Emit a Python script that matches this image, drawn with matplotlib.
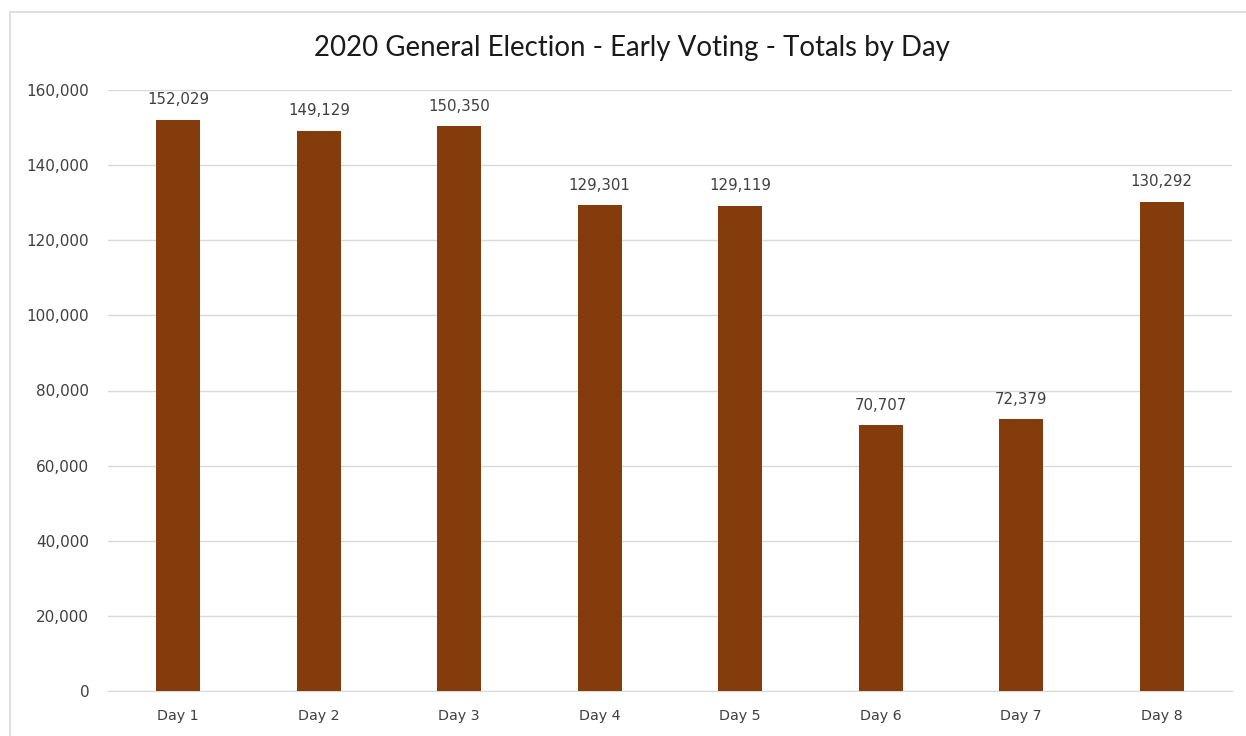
import matplotlib
matplotlib.use("Agg")
import matplotlib.pyplot as plt
from matplotlib.patches import Rectangle
from matplotlib.ticker import FuncFormatter

categories = ["Day 1", "Day 2", "Day 3", "Day 4", "Day 5", "Day 6", "Day 7", "Day 8"]
totals = [152029, 149129, 150350, 129301, 129119, 70707, 72379, 130292]
y_ticks = [0, 20000, 40000, 60000, 80000, 100000, 120000, 140000, 160000]
title = "2020 General Election - Early Voting - Totals by Day"

W, H = 1246, 736
fig = plt.figure(figsize=(W / 100, H / 100), dpi=100)
plt.rcParams['font.family'] = ['DejaVu Sans']

# chart area border
fig.patches.append(Rectangle((10 / W, -0.1), 1.2, 1 - 12 / H + 0.1, transform=fig.transFigure,
                             fill=False, edgecolor="#D9D9D9", linewidth=1.2))

ax = fig.add_axes([108 / W, 1 - 691 / H, (1232 - 108) / W, (691 - 90) / H])
x = list(range(len(categories)))
bars = ax.bar(x, totals, width=0.31, color="#843C0C", zorder=3)
ax.set_xlim(-0.5, len(categories) - 0.5)
ax.set_ylim(0, 160000)
ax.set_yticks(y_ticks)
ax.yaxis.set_major_formatter(FuncFormatter(lambda v, p: f"{int(v):,}"))
ax.set_xticks(x)
ax.set_xticklabels(categories)
ax.grid(axis="y", color="#D9D9D9", linewidth=1, zorder=0)
for s in ["top", "right", "left"]:
    ax.spines[s].set_visible(False)
ax.spines["bottom"].set_color("#D9D9D9")
ax.tick_params(axis="both", length=0, colors="#404040")
ax.tick_params(axis="y", pad=13.5, labelsize=11)
ax.tick_params(axis="x", pad=13, labelsize=10.3)

for xi, v in zip(x, totals):
    ax.annotate(f"{v:,}", (xi, v), xytext=(0, 9), textcoords="offset points",
                ha="center", va="bottom", fontsize=10.8, color="#404040")

fig.text(632 / W, 1 - 48 / H, title, ha="center", va="center", fontsize=19.9,
         color="#1a1a1a", family=["Lato", "DejaVu Sans"])

fig.savefig("out.png", dpi=100, facecolor="white")
